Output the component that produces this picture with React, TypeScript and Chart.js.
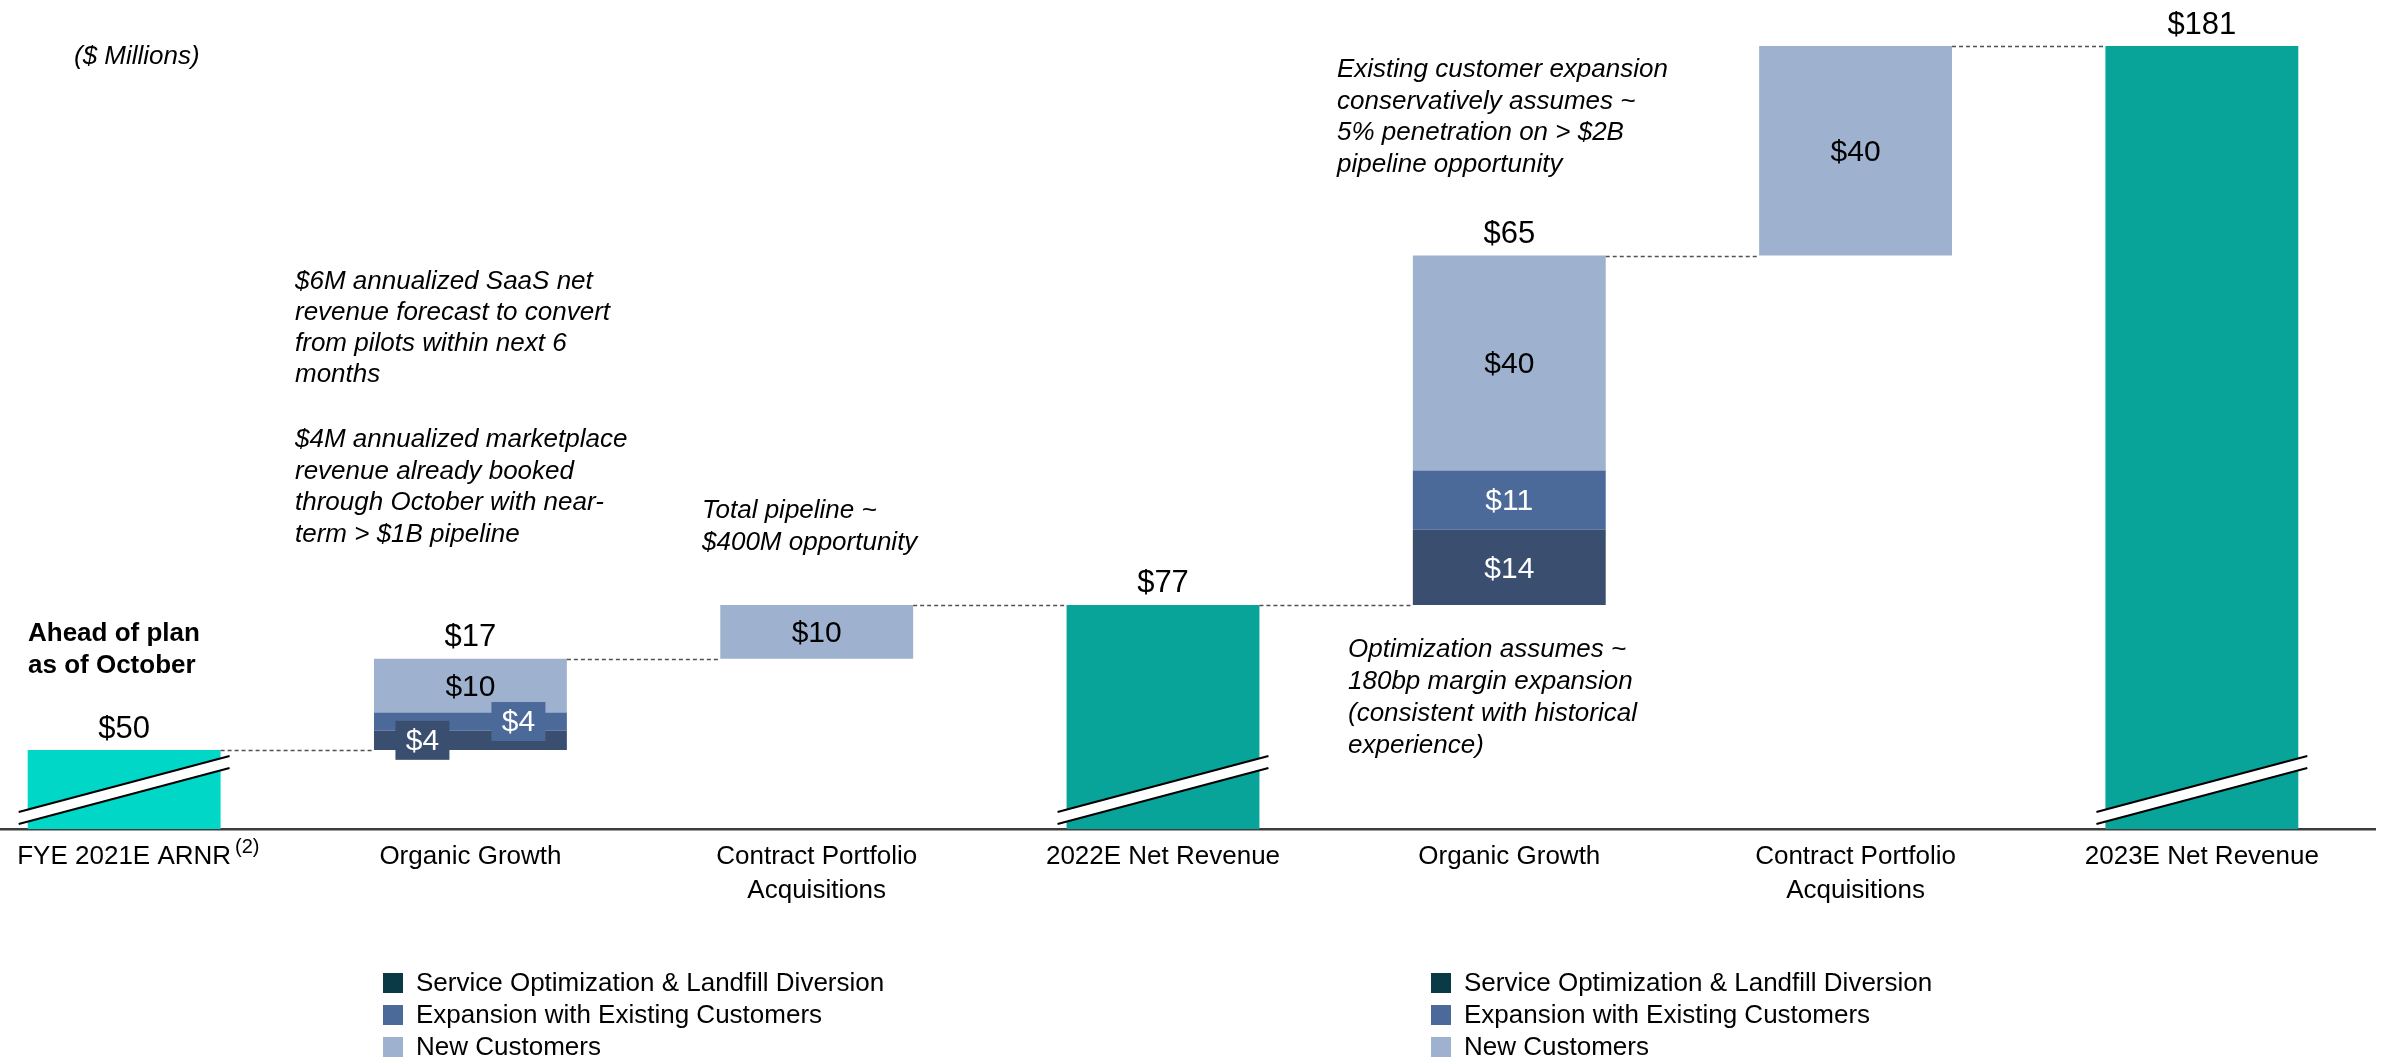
import React, { useEffect, useRef } from 'react';
import { Chart, registerables } from 'chart.js';

Chart.register(...registerables);

const FONT = '"Liberation Sans", Arial, Helvetica, sans-serif';

// ---------- data ----------
const categories: (string | string[])[] = [
  'FYE 2021E ARNR',
  'Organic Growth',
  ['Contract Portfolio', 'Acquisitions'],
  '2022E Net Revenue',
  'Organic Growth',
  ['Contract Portfolio', 'Acquisitions'],
  '2023E Net Revenue',
];
const labelFootnotes = ['(2)', '', '', '', '', '', ''];

const totals: (number | null)[] = [50, null, null, 77, null, null, 181];
const serviceOptimization: (number | null)[] = [null, 3.6, null, null, 14, null, null];
const expansionExisting: (number | null)[] = [null, 3.4, null, null, 11, null, null];
const newCustomers: (number | null)[] = [null, 10, 10, null, 40, 39, null];

const topLabels = ['$50', '$17', '', '$77', '$65', '', '$181'];
const serviceLabels = ['', '$4', '', '', '$14', '', ''];
const expansionLabels = ['', '$4', '', '', '$11', '', ''];
const newCustomerLabels = ['', '$10', '$10', '', '$40', '$40', ''];

const seriesNames = [
  'Service Optimization & Landfill Diversion',
  'Expansion with Existing Customers',
  'New Customers',
];

// ---------- styles ----------
const Y_FLOOR = 35.3; // value at the (broken) axis line
const Y_CEIL = 189.56;
const totalColors = ['#00D7C7', null, null, '#08A499', null, null, '#08A499'];
const seriesColors = ['#3A4F6F', '#4B6A99', '#9EB1CF'];
const legendColors = ['#0B3A47', '#4B6A99', '#9EB1CF'];
const CANVAS_SHIFT = 49;
const CANVAS_W = 2435;
const CANVAS_H = 1059;

// ---------- build floating bars from running totals ----------
const totalBars: ([number, number] | null)[] = [];
const seriesBars: ([number, number] | null)[][] = [[], [], []];
const levels: number[] = [];
{
  let run = 0;
  const series = [serviceOptimization, expansionExisting, newCustomers];
  for (let i = 0; i < categories.length; i++) {
    const t = totals[i];
    if (t != null) {
      totalBars.push([Y_FLOOR, t]);
      series.forEach((_, k) => seriesBars[k].push(null));
      run = t;
    } else {
      totalBars.push(null);
      let b = run;
      series.forEach((s, k) => {
        const v = s[i];
        if (v != null) {
          seriesBars[k].push([b, b + v]);
          b += v;
        } else seriesBars[k].push(null);
      });
      run = b;
    }
    levels.push(run);
  }
}
const segLabelSets = [serviceLabels, expansionLabels, newCustomerLabels];

const decorPlugin = {
  id: 'waterfallDecor',
  afterDatasetsDraw(chart: any) {
    const { ctx, chartArea } = chart;
    const y = chart.scales.y;
    const metas = chart.data.datasets.map((_: any, i: number) => chart.getDatasetMeta(i));
    const n = categories.length;

    const catEls = (i: number) =>
      metas.map((m: any) => m.data[i]).filter((el: any, k: number) => el && chart.data.datasets[k].data[i] != null);

    // connectors
    ctx.save();
    ctx.strokeStyle = '#505050';
    ctx.lineWidth = 1.5;
    ctx.setLineDash([4, 3]);
    for (let i = 0; i < n - 1; i++) {
      const a = catEls(i)[0];
      const b = catEls(i + 1)[0];
      if (!a || !b) continue;
      const yy = Math.round(y.getPixelForValue(levels[i])) + 0.5;
      ctx.beginPath();
      ctx.moveTo(a.x + a.width / 2, yy);
      ctx.lineTo(b.x - b.width / 2, yy);
      ctx.stroke();
    }
    ctx.restore();

    // axis break marks on total bars
    const tm = metas[0];
    ctx.save();
    tm.data.forEach((el: any, i: number) => {
      if (chart.data.datasets[0].data[i] == null) return;
      const l = el.x - el.width / 2 - 9;
      const r = el.x + el.width / 2 + 9;
      const bot = chartArea.bottom;
      const gap = 12;
      ctx.fillStyle = '#ffffff';
      ctx.beginPath();
      ctx.moveTo(l, bot - 17);
      ctx.lineTo(r, bot - 73);
      ctx.lineTo(r, bot - 73 + gap);
      ctx.lineTo(l, bot - 17 + gap);
      ctx.closePath();
      ctx.fill();
      ctx.strokeStyle = '#000';
      ctx.lineWidth = 2;
      for (const off of [0, gap]) {
        ctx.beginPath();
        ctx.moveTo(l, bot - 17 + off);
        ctx.lineTo(r, bot - 73 + off);
        ctx.stroke();
      }
    });
    ctx.restore();

    // top value labels
    ctx.save();
    ctx.textAlign = 'center';
    ctx.textBaseline = 'middle';
    ctx.font = `31px ${FONT}`;
    ctx.fillStyle = '#000';
    for (let i = 0; i < n; i++) {
      if (!topLabels[i]) continue;
      const els = catEls(i);
      const top = Math.min(...els.map((e: any) => Math.min(e.y, e.base)));
      ctx.fillText(topLabels[i], els[0].x, top - 21);
    }

    // segment labels
    ctx.font = `30px ${FONT}`;
    for (let k = 0; k < 3; k++) {
      const m = metas[k + 1];
      const labs = segLabelSets[k];
      m.data.forEach((el: any, i: number) => {
        if (!labs[i] || chart.data.datasets[k + 1].data[i] == null) return;
        const top = Math.min(el.y, el.base);
        const bottom = Math.max(el.y, el.base);
        const cy = (top + bottom) / 2;
        const h = bottom - top;
        if (h >= 30) {
          ctx.fillStyle = k === 2 ? '#000' : '#fff';
          ctx.fillText(labs[i], el.x, cy + 2);
        } else {
          const dx = k === 0 ? -48 : 48;
          ctx.fillStyle = seriesColors[k];
          ctx.fillRect(el.x + dx - 27, cy - 19.5, 54, 39);
          ctx.fillStyle = '#fff';
          ctx.fillText(labs[i], el.x + dx, cy + 1);
        }
      });
    }
    ctx.restore();
  },
  afterDraw(chart: any) {
    const { ctx } = chart;
    const xs = chart.scales.x;
    ctx.save();
    // footnote superscripts on category labels
    labelFootnotes.forEach((f, i) => {
      if (!f) return;
      const lab = categories[i];
      const text = Array.isArray(lab) ? lab[0] : lab;
      ctx.font = `26px ${FONT}`;
      const w = ctx.measureText(text).width;
      ctx.font = `20px ${FONT}`;
      ctx.fillStyle = '#000';
      ctx.textAlign = 'left';
      ctx.textBaseline = 'middle';
      ctx.fillText(f, xs.getPixelForTick(i) + w / 2 + 4, 847);
    });
    // legends (two identical copies)
    const legendXs = [383, 1431];
    const rows = [983, 1015, 1047];
    ctx.font = `26px ${FONT}`;
    ctx.textBaseline = 'middle';
    ctx.textAlign = 'left';
    legendXs.forEach((lx) => {
      const x0 = lx + CANVAS_SHIFT;
      seriesNames.forEach((name, k) => {
        ctx.fillStyle = legendColors[k];
        ctx.fillRect(x0, rows[k] - 10, 20, 20);
        ctx.fillStyle = '#000';
        ctx.fillText(name, x0 + 33, rows[k] + 1);
      });
    });
    ctx.restore();
  },
};

const annoBase: React.CSSProperties = {
  position: 'absolute',
  fontFamily: FONT,
  fontSize: 26,
  lineHeight: '31.5px',
  color: '#000',
  whiteSpace: 'pre',
  fontStyle: 'italic',
};

export default function App() {
  const ref = useRef<HTMLCanvasElement | null>(null);
  useEffect(() => {
    if (!ref.current) return;
    const chart = new Chart(ref.current, {
      type: 'bar',
      data: {
        labels: categories as any,
        datasets: [
          {
            label: 'Total',
            data: totalBars as any,
            backgroundColor: totalColors.map((c) => c || '#000') as any,
            categoryPercentage: 1,
            barPercentage: 0.557,
            stack: 's',
          },
          ...seriesNames.map((name, k) => ({
            label: name,
            data: seriesBars[k] as any,
            backgroundColor: seriesColors[k],
            categoryPercentage: 1,
            barPercentage: 0.557,
            stack: 's',
          })),
        ],
      },
      options: {
        responsive: false,
        animation: false,
        devicePixelRatio: 1,
        layout: { padding: { left: 0, right: 11, top: 0, bottom: 0 } },
        plugins: { legend: { display: false }, tooltip: { enabled: false } },
        scales: {
          x: {
            stacked: true,
            offset: true,
            grid: { display: false, drawTicks: false },
            border: { display: true, color: '#3c3c3c', width: 2.5 },
            ticks: {
              font: { family: FONT, size: 26, lineHeight: 1.3 },
              color: '#000',
              padding: 11,
              maxRotation: 0,
              minRotation: 0,
              autoSkip: false,
            },
            afterFit: (s: any) => {
              s.height = CANVAS_H - 829;
            },
          },
          y: { display: false, stacked: false, min: Y_FLOOR, max: Y_CEIL },
        },
      } as any,
      plugins: [decorPlugin],
    });
    return () => chart.destroy();
  }, []);

  return (
    <div
      style={{
        position: 'absolute',
        left: 0,
        top: 0,
        width: 2386,
        height: 1059,
        overflow: 'hidden',
        background: '#fff',
      }}
    >
      <div style={{ position: 'absolute', left: -CANVAS_SHIFT, top: 0, width: CANVAS_W, height: CANVAS_H }}>
        <canvas ref={ref} width={CANVAS_W} height={CANVAS_H} style={{ display: 'block', width: CANVAS_W, height: CANVAS_H }} />
      </div>
      <div style={{ ...annoBase, left: 74, top: 40 }}>($ Millions)</div>
      <div style={{ ...annoBase, left: 28, top: 616, fontStyle: 'normal', fontWeight: 'bold', lineHeight: '32px' }}>
        {'Ahead of plan\nas of October'}
      </div>
      <div style={{ ...annoBase, left: 295, top: 265, lineHeight: '31px' }}>
        {'$6M annualized SaaS net\nrevenue forecast to convert\nfrom pilots within next 6\nmonths'}
      </div>
      <div style={{ ...annoBase, left: 295, top: 423, lineHeight: '31.5px' }}>
        {'$4M annualized marketplace\nrevenue already booked\nthrough October with near-\nterm > $1B pipeline'}
      </div>
      <div style={{ ...annoBase, left: 702, top: 493, lineHeight: '32px' }}>
        {'Total pipeline ~\n$400M opportunity'}
      </div>
      <div style={{ ...annoBase, left: 1337, top: 53, lineHeight: '31.7px' }}>
        {'Existing customer expansion\nconservatively assumes ~\n5% penetration on > $2B\npipeline opportunity'}
      </div>
      <div style={{ ...annoBase, left: 1348, top: 632, lineHeight: '32px' }}>
        {'Optimization assumes ~\n180bp margin expansion\n(consistent with historical\nexperience)'}
      </div>
    </div>
  );
}
